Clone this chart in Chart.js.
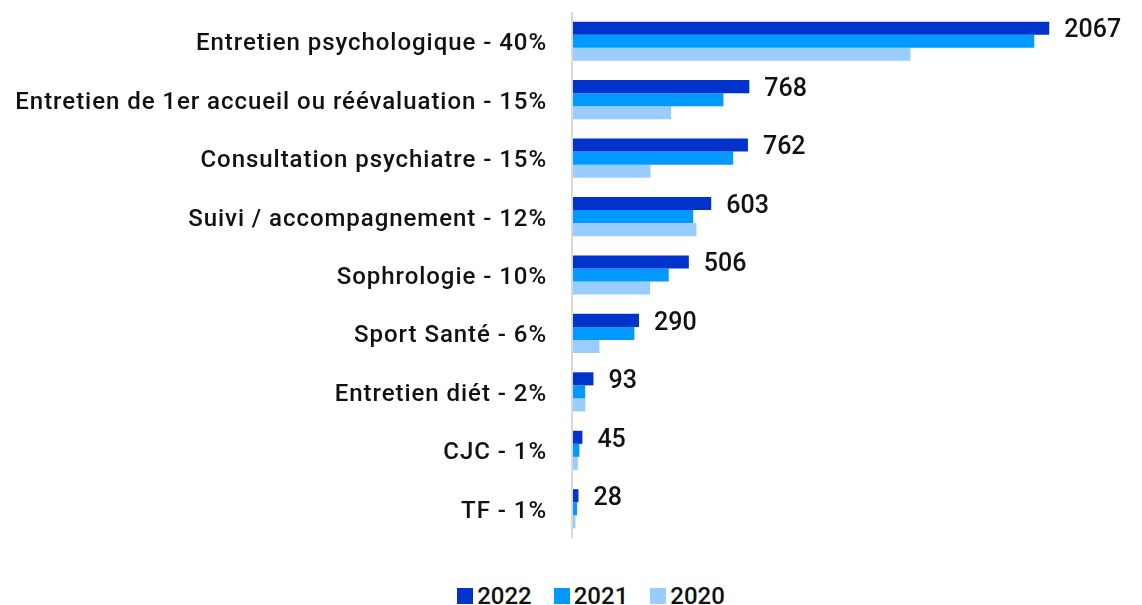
<!DOCTYPE html>
<html lang="fr">
<head>
<meta charset="utf-8">
<script src="https://cdn.jsdelivr.net/npm/chart.js@4/dist/chart.umd.min.js"></script>
<style>
  html, body { margin: 0; padding: 0; background: #fff; }
  #wrap { position: relative; width: 1142px; height: 565px; }
  #legend {
    position: absolute; top: 583px; left: 40px; width: 1102px;
    display: flex; justify-content: center; gap: 22px;
    font-family: Roboto, sans-serif; font-weight: 500; font-size: 24px; color: #111;
  }
  .item { display: flex; align-items: center; gap: 4px; line-height: 26px; }
  .box { width: 16px; height: 16px; display: inline-block; }
</style>
</head>
<body>
<div id="wrap"><canvas id="chart"></canvas></div>
<div id="legend"></div>
<script>
const FONT = "Roboto, sans-serif";

const categories = [
  "Entretien psychologique - 40%",
  "Entretien de 1er accueil ou réévaluation - 15%",
  "Consultation psychiatre - 15%",
  "Suivi / accompagnement - 12%",
  "Sophrologie - 10%",
  "Sport Santé - 6%",
  "Entretien diét - 2%",
  "CJC - 1%",
  "TF - 1%",
];
const seriesNames = ["2022", "2021", "2020"];
const values2022 = [2067, 768, 762, 603, 506, 290, 93, 45, 28];
const values2021 = [2002, 656, 698, 525, 419, 270, 57, 32, 22];
const values2020 = [1466, 429, 340, 539, 338, 119, 58, 25, 15];
const colors = ["#0033cc", "#0099ff", "#99ccff"];

// espacement des lettres pour les libellés (police type DIN)
const spacing = {
  id: "spacing",
  beforeLayout(chart) { chart.ctx.letterSpacing = "0.95px"; },
  beforeDraw(chart) { chart.ctx.letterSpacing = "0.95px"; },
};

// étiquettes de valeur uniquement sur 2022
const valueLabels = {
  id: "valueLabels",
  afterDatasetsDraw(chart) {
    const ctx = chart.ctx;
    const meta = chart.getDatasetMeta(0);
    ctx.save();
    ctx.letterSpacing = "0px";
    ctx.font = `500 25px ${FONT}`;
    ctx.fillStyle = "#111";
    ctx.textBaseline = "middle";
    ctx.textAlign = "left";
    meta.data.forEach((bar, i) => {
      ctx.fillText(String(values2022[i]), bar.x + 15, bar.y + 3);
    });
    ctx.restore();
  },
};

new Chart(document.getElementById("chart"), {
  type: "bar",
  data: {
    labels: categories,
    datasets: [
      { label: seriesNames[0], data: values2022, backgroundColor: colors[0] },
      { label: seriesNames[1], data: values2021, backgroundColor: colors[1] },
      { label: seriesNames[2], data: values2020, backgroundColor: colors[2] },
    ],
  },
  options: {
    indexAxis: "y",
    responsive: true,
    maintainAspectRatio: false,
    animation: false,
    layout: { padding: { top: 12, left: 12, right: 2, bottom: 27 } },
    datasets: { bar: { categoryPercentage: 0.67, barPercentage: 1 } },
    scales: {
      x: {
        min: 0, max: 2460,
        ticks: { display: false, stepSize: 500 },
        grid: {
          color: c => (c.tick && c.tick.value % 500 === 0) ? "#d9d9d9" : "rgba(0,0,0,0)",
          lineWidth: 2, drawTicks: false,
        },
        border: { display: false },
      },
      y: {
        grid: { display: false },
        border: { display: false },
        ticks: { color: "#111", padding: 17, labelOffset: 3, font: { family: FONT, size: 24, weight: 500 } },
        afterFit(scale) {
          scale.width = 560;
          scale.paddingTop = 0;
          scale.paddingBottom = 0;
        },
      },
    },
    plugins: { legend: { display: false }, tooltip: { enabled: false } },
  },
  plugins: [spacing, valueLabels],
});

document.getElementById("legend").innerHTML = seriesNames.map((n, i) =>
  `<span class="item"><span class="box" style="background:${colors[i]}"></span>${n}</span>`
).join("");
</script>
</body>
</html>
